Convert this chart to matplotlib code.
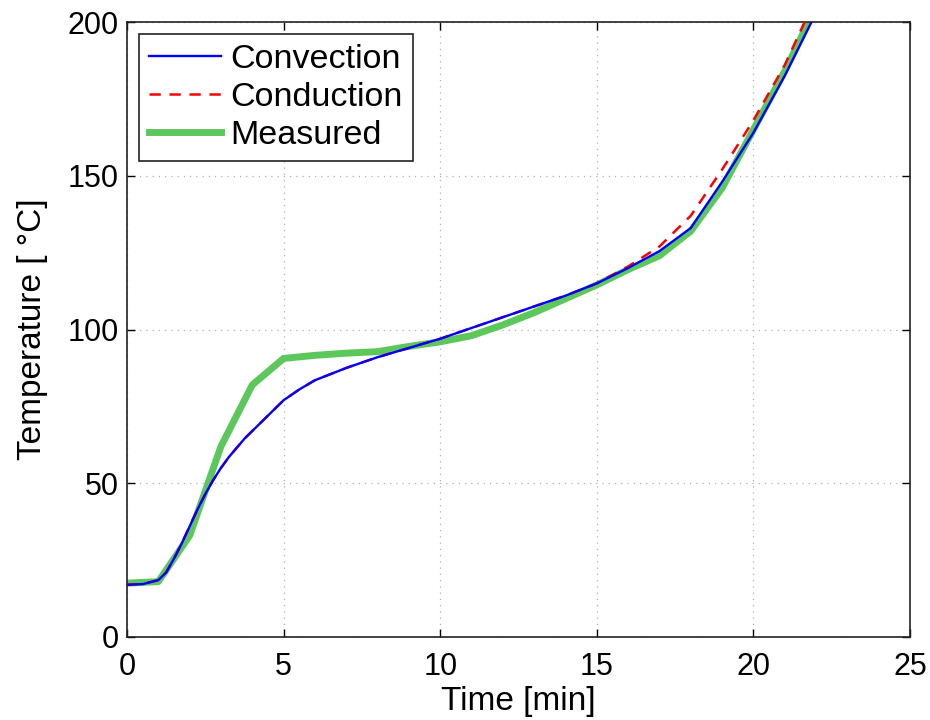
import matplotlib
matplotlib.use("Agg")
import matplotlib.pyplot as plt

# Model predictions (finer steps where the curve bends)
t_model = [0, 0.5, 1, 1.25, 1.5, 1.75, 2, 2.25, 2.5, 2.75, 3, 3.25, 3.5,
           3.75, 4, 4.5, 5, 5.5, 6, 7, 8, 9, 10, 11, 12, 13, 14, 15, 16, 17,
           18, 19, 20, 21, 22]
convection = [17, 17.2, 18.5, 21, 25.5, 30.5, 36, 41.5, 46.5, 51, 55, 58.5,
              61.5, 64.5, 67, 72, 77, 80.5, 83.5, 87.5, 91, 94, 97, 100.5,
              104, 107.5, 111, 115, 120, 125.5, 133, 148, 164, 182.5, 203]
conduction = [17, 17.2, 18.5, 21, 25.5, 30.5, 36, 41.5, 46.5, 51, 55, 58.5,
              61.5, 64.5, 67, 72, 77, 80.5, 83.5, 87.5, 91, 94, 97, 100.5,
              104, 107.5, 111, 115, 120.5, 127, 137, 152, 168, 186, 208]

# Thermocouple readings, once per minute
t_meas = [0, 1, 2, 3, 4, 5, 6, 7, 8, 9, 10, 11, 12, 13, 14, 15, 16, 17, 18,
          19, 20, 21, 22]
measured = [17.5, 18, 33, 62, 82, 90.6, 91.6, 92.3, 92.8, 94.5, 96, 98,
            101.5, 105.5, 110, 114.5, 119.5, 124, 132, 146, 165, 184, 205]

plt.rcParams['font.family'] = ['Liberation Sans', 'DejaVu Sans']

fig = plt.figure(figsize=(9.3, 7.2), dpi=100)
ax = fig.add_axes([0.1366, 0.1153, 0.8419, 0.8541])

ax.plot(t_model, convection, color='#0000ff', lw=1.7, label='Convection', zorder=4)
ax.plot(t_model, conduction, color='#ff0000', lw=1.8, ls=(0, (4.5, 3.5)),
        label='Conduction', zorder=3)
ax.plot(t_meas, measured, color='#5cc85c', lw=5.0, label='Measured', zorder=2)

ax.set_xlim(0, 25)
ax.set_ylim(0, 200)
ax.set_xticks([0, 5, 10, 15, 20, 25])
ax.set_yticks([0, 50, 100, 150, 200])
ax.grid(True, color='#b0b0b0', ls=(0, (1, 4)), lw=0.9)
ax.tick_params(direction='in', top=True, right=True, labelsize=22,
               length=5.5, width=1)
ax.tick_params(axis='x', pad=11)
ax.tick_params(axis='y', pad=6)
for s in ax.spines.values():
    s.set_linewidth(1.2)
    s.set_color('#222222')

ax.set_xlabel('Time [min]', fontsize=24, labelpad=3)
ax.set_ylabel('Temperature [ \u00b0C]', fontsize=24, labelpad=14)

leg = ax.legend(loc='upper left', fontsize=24.5, frameon=True, fancybox=False,
                edgecolor='#222222', framealpha=1, handlelength=2.1,
                handletextpad=0.28, borderpad=0.3, labelspacing=0.2,
                borderaxespad=0.35)
leg.get_frame().set_linewidth(1.2)

fig.savefig('out.png', dpi=100, facecolor='white')
